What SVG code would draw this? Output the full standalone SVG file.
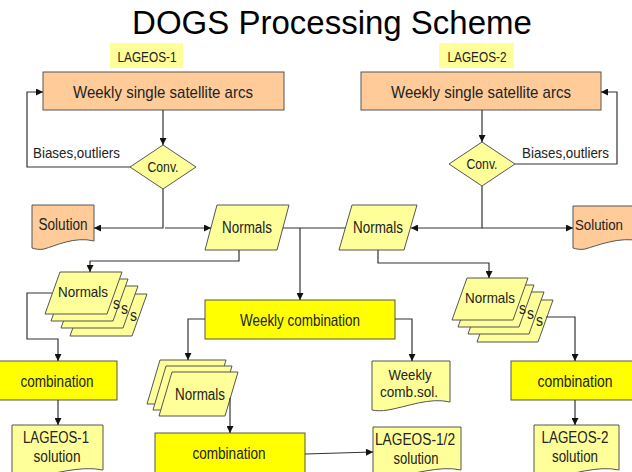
<svg xmlns="http://www.w3.org/2000/svg" width="632" height="472" viewBox="0 0 632 472">
<style>
text{font-family:"Liberation Sans",Arial,sans-serif;fill:#222}
.title{font-size:33px;fill:#000}
.peach{fill:#FFCC99;stroke:#555;stroke-width:1}
.lite{fill:#FFFF99;stroke:#555;stroke-width:1}
.tag{fill:#FFFF99;stroke:none}
.bright{fill:#FFFF00;stroke:#555;stroke-width:1}
.c{fill:none;stroke:#333;stroke-width:1.2}
.ca{fill:none;stroke:#333;stroke-width:1.2;marker-end:url(#ah)}
.t14{font-size:14px}
.t15{font-size:15px}
.t16{font-size:16px}
.t17{font-size:17px}
</style>
<defs>
<marker id="ah" viewBox="0 0 10 10" refX="10" refY="5" markerWidth="8" markerHeight="7" markerUnits="userSpaceOnUse" orient="auto"><path d="M0,0 L10,5 L0,10 Z" fill="#111"/></marker>
</defs>
<rect width="632" height="472" fill="#fff"/>
<text class="title" x="332" y="34" text-anchor="middle">DOGS Processing Scheme</text>

<g id="label-lageos1"><rect class="tag" x="110" y="43" width="73" height="25"/><text class="t14" x="147" y="62" text-anchor="middle" textLength="59" lengthAdjust="spacingAndGlyphs">LAGEOS-1</text></g>
<g id="label-lageos2"><rect class="tag" x="439" y="43" width="75" height="25"/><text class="t14" x="477" y="62" text-anchor="middle" textLength="59" lengthAdjust="spacingAndGlyphs">LAGEOS-2</text></g>

<g id="arcs1"><rect class="peach" x="43" y="72" width="241" height="38"/><text class="t17" x="163" y="98" text-anchor="middle" textLength="180" lengthAdjust="spacingAndGlyphs">Weekly single satellite arcs</text></g>
<g id="arcs2"><rect class="peach" x="361" y="72" width="240" height="38"/><text class="t17" x="481" y="98" text-anchor="middle" textLength="180" lengthAdjust="spacingAndGlyphs">Weekly single satellite arcs</text></g>

<g id="conv1"><path class="lite" d="M163,145 L196,167 L163,189 L130,167 Z"/><text class="t14" x="163" y="172" text-anchor="middle" textLength="31" lengthAdjust="spacingAndGlyphs">Conv.</text></g>
<g id="conv2"><path class="lite" d="M482,142 L515,164 L482,186 L449,164 Z"/><text class="t14" x="482" y="169" text-anchor="middle" textLength="31" lengthAdjust="spacingAndGlyphs">Conv.</text></g>

<g id="bias1"><text class="t15" x="33" y="158" textLength="87" lengthAdjust="spacingAndGlyphs">Biases,outliers</text></g>
<g id="bias2"><text class="t15" x="522" y="158" textLength="87" lengthAdjust="spacingAndGlyphs">Biases,outliers</text></g>

<g id="solution1"><path class="peach" d="M32,205 H94 V241 C75,236 55,246 44,249 C40,250 35,249 32,248 Z"/><text class="t16" x="63" y="230" text-anchor="middle" textLength="49" lengthAdjust="spacingAndGlyphs">Solution</text></g>
<g id="solution2"><path class="peach" d="M573,206 H640 V241 C620,236 596,246 585,249 C581,250 576,249 573,248 Z"/><text class="t15" x="575" y="230" textLength="48" lengthAdjust="spacingAndGlyphs">Solution</text></g>

<g id="normals1"><path class="lite" d="M217,205 H289 L277,250 H205 Z"/><text class="t16" x="247" y="233" text-anchor="middle" textLength="50" lengthAdjust="spacingAndGlyphs">Normals</text></g>
<g id="normals2"><path class="lite" d="M352,205 H417 L404,250 H339 Z"/><text class="t16" x="378" y="233" text-anchor="middle" textLength="50" lengthAdjust="spacingAndGlyphs">Normals</text></g>

<g id="stack-left">
<path class="lite" d="M85,294 H147 L132,336 H70 Z"/><text class="t16" x="130" y="321" textLength="7" lengthAdjust="spacingAndGlyphs">s</text>
<path class="lite" d="M76,286 H138 L123,328 H61 Z"/><text class="t16" x="121" y="314" textLength="7" lengthAdjust="spacingAndGlyphs">s</text>
<path class="lite" d="M66,279 H128 L113,321 H51 Z"/><text class="t16" x="113" y="309" textLength="7" lengthAdjust="spacingAndGlyphs">s</text>
<path class="lite" d="M60,272 H122 L107,314 H45 Z"/><text class="t15" x="83" y="297" text-anchor="middle" textLength="50" lengthAdjust="spacingAndGlyphs">Normals</text>
</g>

<g id="stack-right">
<path class="lite" d="M492,300 H553 L538,342 H477 Z"/><text class="t16" x="536" y="326" textLength="7" lengthAdjust="spacingAndGlyphs">s</text>
<path class="lite" d="M483,292 H544 L529,334 H468 Z"/><text class="t16" x="527" y="319" textLength="7" lengthAdjust="spacingAndGlyphs">s</text>
<path class="lite" d="M473,285 H534 L519,327 H458 Z"/><text class="t16" x="519" y="314" textLength="7" lengthAdjust="spacingAndGlyphs">s</text>
<path class="lite" d="M467,278 H528 L513,320 H452 Z"/><text class="t15" x="490" y="303" text-anchor="middle" textLength="50" lengthAdjust="spacingAndGlyphs">Normals</text>
</g>

<g id="weekly-combination"><rect class="bright" x="205" y="300" width="190" height="39"/><text class="t17" x="300" y="326" text-anchor="middle" textLength="120" lengthAdjust="spacingAndGlyphs">Weekly combination</text></g>

<g id="combination-left"><rect class="bright" x="-1" y="361" width="118" height="39"/><text class="t16" x="57" y="387" text-anchor="middle" textLength="73" lengthAdjust="spacingAndGlyphs">combination</text></g>
<g id="combination-right"><rect class="bright" x="511" y="361" width="130" height="39"/><text class="t16" x="575" y="387" text-anchor="middle" textLength="75" lengthAdjust="spacingAndGlyphs">combination</text></g>

<g id="stack-middle">
<path class="lite" d="M160,360 H226 L213,404 H147 Z"/>
<path class="lite" d="M166,366 H232 L219,410 H153 Z"/>
<path class="lite" d="M172,372 H238 L225,416 H159 Z"/><text class="t16" x="200" y="400" text-anchor="middle" textLength="50" lengthAdjust="spacingAndGlyphs">Normals</text>
</g>

<g id="combination-mid"><rect class="bright" x="155" y="433" width="150" height="45"/><text class="t16" x="229" y="459" text-anchor="middle" textLength="73" lengthAdjust="spacingAndGlyphs">combination</text></g>

<g id="weekly-comb-sol"><path class="lite" d="M372,361 H450 V402 C430,397 406,407 388,410 C382,411 376,411 372,410 Z"/><text class="t15" x="410" y="380" text-anchor="middle" textLength="43" lengthAdjust="spacingAndGlyphs">Weekly</text><text class="t15" x="409" y="397" text-anchor="middle" textLength="58" lengthAdjust="spacingAndGlyphs">comb.sol.</text></g>

<g id="lageos1-sol"><path class="lite" d="M12,425 H103 V470 C80,465 50,475 30,478 C22,479 16,479 12,478 Z"/><text class="t16" x="56" y="443" text-anchor="middle" textLength="66" lengthAdjust="spacingAndGlyphs">LAGEOS-1</text><text class="t16" x="57" y="462" text-anchor="middle" textLength="47" lengthAdjust="spacingAndGlyphs">solution</text></g>
<g id="lageos12-sol"><path class="lite" d="M373,427 H461 V470 C440,465 410,475 390,478 C382,479 377,479 373,478 Z"/><text class="t16" x="415" y="445" text-anchor="middle" textLength="80" lengthAdjust="spacingAndGlyphs">LAGEOS-1/2</text><text class="t16" x="416" y="464" text-anchor="middle" textLength="45" lengthAdjust="spacingAndGlyphs">solution</text></g>
<g id="lageos2-sol"><path class="lite" d="M534,425 H619 V470 C598,465 570,475 551,478 C543,479 538,479 534,478 Z"/><text class="t16" x="575" y="443" text-anchor="middle" textLength="67" lengthAdjust="spacingAndGlyphs">LAGEOS-2</text><text class="t16" x="575" y="462" text-anchor="middle" textLength="46" lengthAdjust="spacingAndGlyphs">solution</text></g>

<g id="connectors">
<path class="ca" d="M163,110 V145"/>
<path class="ca" d="M130,167 H27 V92 H43"/>
<path class="ca" d="M163,189 V228 H94"/>
<path class="ca" d="M165,228 H211"/>
<path class="c" d="M283,228 H345"/>
<path class="ca" d="M300,228 V300"/>
<path class="ca" d="M482,110 V142"/>
<path class="ca" d="M515,164 H617 V92 H601"/>
<path class="ca" d="M482,186 V228 H411"/>
<path class="ca" d="M482,228 H573"/>
<path class="ca" d="M239,250 V261 H90 V272"/>
<path class="ca" d="M378,250 V263 H489 V278"/>
<path class="ca" d="M52,293 H27 V339 H58 V361"/>
<path class="ca" d="M58,400 V425"/>
<path class="ca" d="M546,317 H575 V361"/>
<path class="ca" d="M575,400 V425"/>
<path class="ca" d="M205,319 H188 V360"/>
<path class="ca" d="M395,319 H412 V361"/>
<path class="ca" d="M230,398 V433"/>
<path class="ca" d="M305,454 L373,452"/>
</g>
</svg>
